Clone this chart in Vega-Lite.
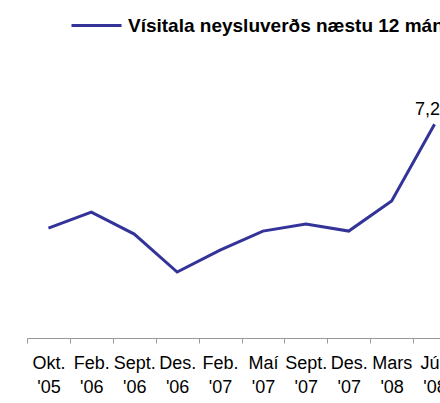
{
  "$schema": "https://vega.github.io/schema/vega-lite/v6.json",
  "autosize": "none",
  "width": 413,
  "height": 297,
  "padding": {"left": 27, "right": 0, "top": 41, "bottom": 65},
  "background": "white",
  "config": {
    "view": {"stroke": null},
    "font": "Liberation Sans"
  },
  "data": {
    "values": [
      {"label": "Okt. '05", "value": 3.70, "series": "Vísitala neysluverðs næstu 12 mánuði"},
      {"label": "Feb. '06", "value": 4.24, "series": "Vísitala neysluverðs næstu 12 mánuði"},
      {"label": "Sept. '06", "value": 3.50, "series": "Vísitala neysluverðs næstu 12 mánuði"},
      {"label": "Des. '06", "value": 2.22, "series": "Vísitala neysluverðs næstu 12 mánuði"},
      {"label": "Feb. '07", "value": 2.96, "series": "Vísitala neysluverðs næstu 12 mánuði"},
      {"label": "Maí '07", "value": 3.60, "series": "Vísitala neysluverðs næstu 12 mánuði"},
      {"label": "Sept. '07", "value": 3.84, "series": "Vísitala neysluverðs næstu 12 mánuði"},
      {"label": "Des. '07", "value": 3.60, "series": "Vísitala neysluverðs næstu 12 mánuði"},
      {"label": "Mars '08", "value": 4.61, "series": "Vísitala neysluverðs næstu 12 mánuði"},
      {"label": "Jún '08", "value": 7.2, "series": "Vísitala neysluverðs næstu 12 mánuði", "text": "7,2"}
    ]
  },
  "encoding": {
    "x": {
      "field": "label",
      "type": "ordinal",
      "sort": null,
      "scale": {"type": "band", "paddingInner": 0, "paddingOuter": 0, "range": [0, 429]},
      "axis": {
        "title": null,
        "labelAngle": 0,
        "labelExpr": "split(datum.label, ' ')",
        "labelFontSize": 18,
        "labelLineHeight": 24,
        "labelColor": "#000000",
        "labelPadding": 11,
        "labelLimit": 1000,
        "labelOverlap": false,
        "tickBand": "extent",
        "tickSize": 5,
        "tickColor": "#999999",
        "domainColor": "#999999",
        "grid": false
      }
    },
    "y": {
      "field": "value",
      "type": "quantitative",
      "scale": {"domain": [0, 10], "zero": true, "nice": false},
      "axis": null
    }
  },
  "layer": [
    {
      "mark": {"type": "line", "strokeWidth": 3, "interpolate": "linear"},
      "encoding": {
        "color": {
          "field": "series",
          "type": "nominal",
          "scale": {"range": ["#333399"]},
          "legend": {
            "title": null,
            "orient": "none",
            "legendX": 43,
            "legendY": -42,
            "padding": 0,
            "symbolType": "stroke",
            "symbolSize": 2500,
            "symbolStrokeWidth": 3,
            "labelFontSize": 19,
            "labelFontWeight": "bold",
            "labelColor": "#000000",
            "labelOffset": 5,
            "labelLimit": 1000
          }
        }
      }
    },
    {
      "transform": [{"filter": "isValid(datum.text)"}],
      "mark": {"type": "text", "fontSize": 18, "color": "#000000", "baseline": "bottom", "dy": -5, "dx": -7},
      "encoding": {
        "text": {"field": "text"}
      }
    }
  ]
}
